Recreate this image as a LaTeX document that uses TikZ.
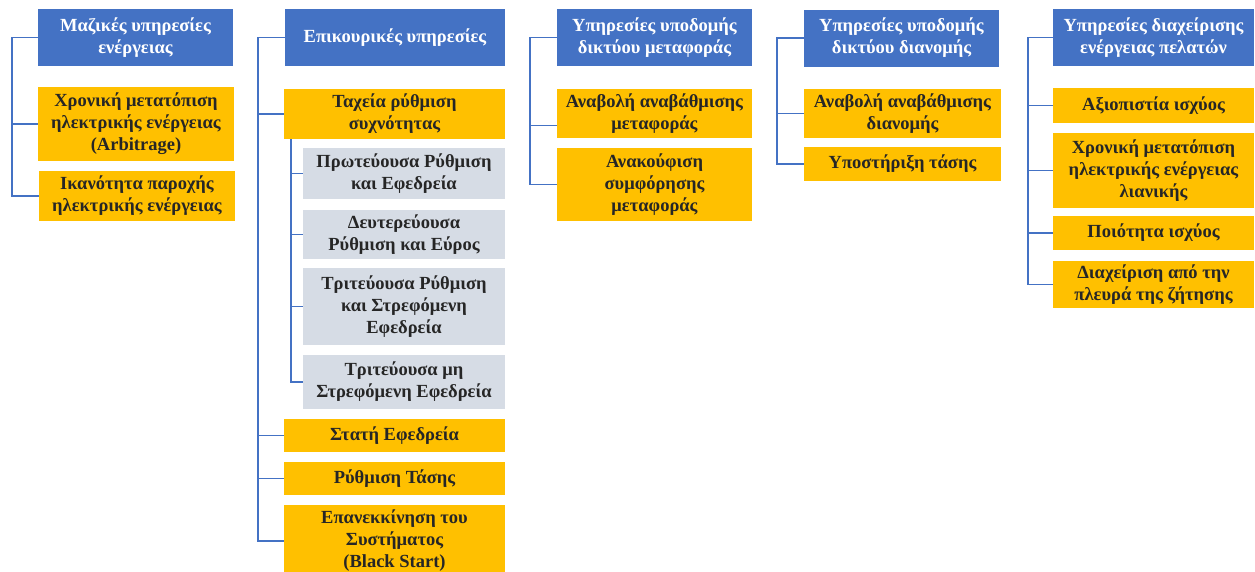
\documentclass[tikz,border=0pt]{standalone}
\usepackage{fontspec}
\setmainfont{Liberation Serif}
\definecolor{headblue}{HTML}{4472C4}
\definecolor{leafgold}{HTML}{FFC000}
\definecolor{subgrey}{HTML}{D6DCE5}
\definecolor{inkgrey}{HTML}{262626}
\begin{document}
\begin{tikzpicture}[x=1pt, y=-1pt,
  every node/.style={font=\fontsize{18.5}{22}\selectfont\bfseries, align=center, inner sep=0pt},
  head/.style={fill=headblue, text=white, minimum height=57pt},
  leaf/.style={fill=leafgold, text=inkgrey},
  sub/.style={fill=subgrey, text=inkgrey},
  link/.style={draw=headblue, line width=1.8pt}]
  \useasboundingbox (0,0) rectangle (1255,571);

  % bulk energy services
  \node[head, minimum width=195pt] (maz) at (135.5,37.5) {Μαζικές υπηρεσίες\\ενέργειας};
  \node[leaf, minimum width=196pt, minimum height=74pt] (mazArb) at (136,124) {Χρονική μετατόπιση\\ηλεκτρικής ενέργειας\\(Arbitrage)};
  \node[leaf, minimum width=196pt, minimum height=50pt] (mazCap) at (137,196) {Ικανότητα παροχής\\ηλεκτρικής ενέργειας};

  % ancillary services
  \node[head, minimum width=220pt] (epik) at (395,37.5) {Επικουρικές υπηρεσίες};
  \node[leaf, minimum width=221pt, minimum height=50pt] (freq) at (394.5,114) {Ταχεία ρύθμιση\\συχνότητας};
  \node[sub, minimum width=202pt, minimum height=51pt] (prim) at (404,173.5) {Πρωτεύουσα Ρύθμιση\\και Εφεδρεία};
  \node[sub, minimum width=202pt, minimum height=49pt] (sec) at (404,234.5) {Δευτερεύουσα\\Ρύθμιση και Εύρος};
  \node[sub, minimum width=202pt, minimum height=77pt] (tert) at (404,306.5) {Τριτεύουσα Ρύθμιση\\και Στρεφόμενη\\Εφεδρεία};
  \node[sub, minimum width=202pt, minimum height=54pt] (tertN) at (404,382) {Τριτεύουσα μη\\Στρεφόμενη Εφεδρεία};
  \node[leaf, minimum width=221pt, minimum height=33pt] (stat) at (394.5,435.5) {Στατή Εφεδρεία};
  \node[leaf, minimum width=221pt, minimum height=33pt] (volt) at (394.5,478.5) {Ρύθμιση Τάσης};
  \node[leaf, minimum width=221pt, minimum height=72pt] (black) at (394.5,541) {Επανεκκίνηση του\\Συστήματος\\(Black Start)};

  % transmission infrastructure
  \node[head, minimum width=195pt] (metaf) at (654.5,37.5) {Υπηρεσίες υποδομής\\δικτύου μεταφοράς};
  \node[leaf, minimum width=195pt, minimum height=49pt] (metDef) at (654.5,113.5) {Αναβολή αναβάθμισης\\μεταφοράς};
  \node[leaf, minimum width=195pt, minimum height=73pt] (metCong) at (654.5,184.5) {Ανακούφιση\\συμφόρησης\\μεταφοράς};

  % distribution infrastructure
  \node[head, minimum width=195pt] (dian) at (901.5,38) {Υπηρεσίες υποδομής\\δικτύου διανομής};
  \node[leaf, minimum width=197pt, minimum height=49pt] (dianDef) at (902.5,113.5) {Αναβολή αναβάθμισης\\διανομής};
  \node[leaf, minimum width=197pt, minimum height=34pt] (dianVolt) at (902.5,164) {Υποστήριξη τάσης};

  % customer energy management
  \node[head, minimum width=201pt] (pel) at (1153.5,37.5) {Υπηρεσίες διαχείρισης\\ενέργειας πελατών};
  \node[leaf, minimum width=201pt, minimum height=35pt] (pelRel) at (1153.5,105.5) {Αξιοπιστία ισχύος};
  \node[leaf, minimum width=201pt, minimum height=75pt] (pelShift) at (1153.5,170.5) {Χρονική μετατόπιση\\ηλεκτρικής ενέργειας\\λιανικής};
  \node[leaf, minimum width=201pt, minimum height=34pt] (pelQual) at (1153.5,233) {Ποιότητα ισχύος};
  \node[leaf, minimum width=201pt, minimum height=47pt] (pelDR) at (1153.5,284.5) {Διαχείριση από την\\πλευρά της ζήτησης};

  % buses
  \coordinate (mazBus) at (12,0);
  \coordinate (epikBus) at (258,0);
  \coordinate (metafBus) at (530,0);
  \coordinate (dianBus) at (777,0);
  \coordinate (pelBus) at (1028,0);
  \coordinate (freqBus) at ([xshift=7pt]freq.south west);

  \draw[link] (maz.west) -- (maz.west -| mazBus) |- (mazCap.west);
  \draw[link] (mazArb.west -| mazBus) -- (mazArb.west);

  \draw[link] (epik.west) -- (epik.west -| epikBus) |- (black.west);
  \draw[link] (freq.west -| epikBus) -- (freq.west);
  \draw[link] (stat.west -| epikBus) -- (stat.west);
  \draw[link] (volt.west -| epikBus) -- (volt.west);
  \draw[link] (freqBus) |- (tertN.west);
  \draw[link] (prim.west -| freqBus) -- (prim.west);
  \draw[link] (sec.west -| freqBus) -- (sec.west);
  \draw[link] (tert.west -| freqBus) -- (tert.west);

  \draw[link] (metaf.west) -- (metaf.west -| metafBus) |- (metCong.west);
  \draw[link] ([yshift=-12pt]metDef.west -| metafBus) -- ([yshift=-12pt]metDef.west);

  \draw[link] (dian.west) -- (dian.west -| dianBus) |- (dianVolt.west);
  \draw[link] (dianDef.west -| dianBus) -- (dianDef.west);

  \draw[link] (pel.west) -- (pel.west -| pelBus) |- (pelDR.west);
  \draw[link] (pelRel.west -| pelBus) -- (pelRel.west);
  \draw[link] (pelShift.west -| pelBus) -- (pelShift.west);
  \draw[link] (pelQual.west -| pelBus) -- (pelQual.west);
\end{tikzpicture}
\end{document}
